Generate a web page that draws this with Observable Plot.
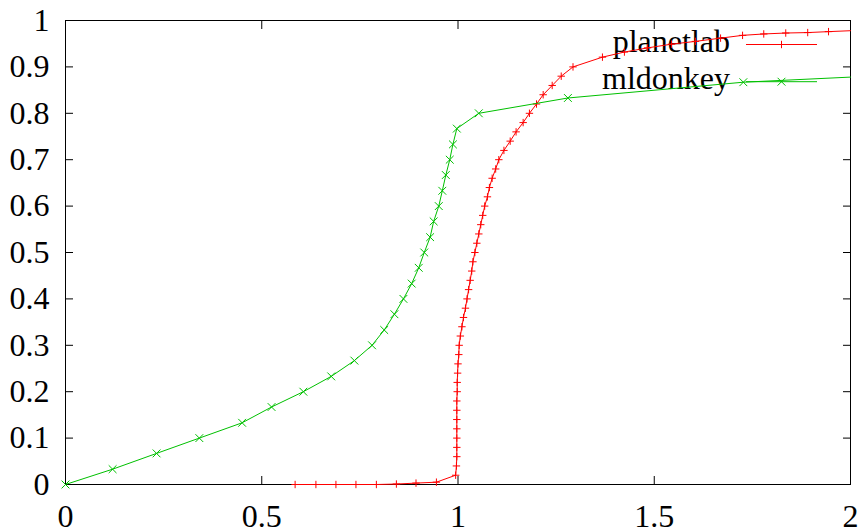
<!DOCTYPE html>
<html>
<head>
<meta charset="utf-8">
<script src="https://cdn.jsdelivr.net/npm/d3@7"></script>
<script src="https://cdn.jsdelivr.net/npm/@observablehq/plot@0.6"></script>
<style>
  html, body { margin: 0; padding: 0; background: #fff; }
  #chart svg { display: block; }
  #chart svg text { font-family: "Liberation Serif", "Times New Roman", serif !important; font-variant: normal !important; font-variant-numeric: normal !important; }
</style>
</head>
<body>
<div id="chart"></div>
<script>
const xTicks = [0, 0.5, 1, 1.5, 2];
const xTickLabels = ["0", "0.5", "1", "1.5", "2"];
const yTicks = [0, 0.1, 0.2, 0.3, 0.4, 0.5, 0.6, 0.7, 0.8, 0.9, 1];
const yTickLabels = ["0", "0.1", "0.2", "0.3", "0.4", "0.5", "0.6", "0.7", "0.8", "0.9", "1"];

const seriesNames = ["planetlab", "mldonkey"];
const seriesColors = ["#ff0000", "#00c000"];

const planetlabX = [0.585, 0.638, 0.689, 0.740, 0.792, 0.843, 0.893, 0.945, 0.994, 0.996, 0.997, 0.997, 0.997, 0.997, 0.997, 0.997, 0.997, 0.998, 0.998, 0.999, 1.000, 1.002, 1.003, 1.006, 1.010, 1.014, 1.019, 1.023, 1.027, 1.031, 1.035, 1.038, 1.043, 1.048, 1.053, 1.058, 1.063, 1.068, 1.075, 1.080, 1.087, 1.096, 1.104, 1.117, 1.133, 1.148, 1.166, 1.182, 1.200, 1.217, 1.240, 1.263, 1.293, 1.368, 1.424, 1.483, 1.544, 1.605, 1.669, 1.725, 1.779, 1.835, 1.891, 1.944, 2.000];
const planetlabY = [0, 0, 0, 0, 0, 0.001, 0.003, 0.005, 0.02, 0.04, 0.06, 0.08, 0.10, 0.12, 0.14, 0.16, 0.18, 0.20, 0.22, 0.24, 0.26, 0.28, 0.30, 0.32, 0.34, 0.36, 0.38, 0.40, 0.42, 0.44, 0.46, 0.48, 0.50, 0.52, 0.54, 0.56, 0.58, 0.60, 0.62, 0.64, 0.66, 0.68, 0.70, 0.72, 0.74, 0.76, 0.78, 0.80, 0.82, 0.84, 0.86, 0.88, 0.90, 0.921, 0.932, 0.941, 0.949, 0.955, 0.962, 0.968, 0.971, 0.973, 0.974, 0.976, 0.978];

const mldonkeyX = [0, 0.120, 0.232, 0.341, 0.450, 0.525, 0.606, 0.677, 0.736, 0.781, 0.812, 0.838, 0.861, 0.882, 0.900, 0.914, 0.929, 0.938, 0.951, 0.960, 0.969, 0.979, 0.987, 0.997, 1.053, 1.280, 1.727, 2.000];
const mldonkeyY = [0, 0.033, 0.067, 0.100, 0.133, 0.167, 0.200, 0.233, 0.267, 0.300, 0.333, 0.367, 0.400, 0.433, 0.467, 0.500, 0.533, 0.567, 0.600, 0.633, 0.667, 0.700, 0.733, 0.767, 0.800, 0.833, 0.867, 0.878];

const planetlab = planetlabX.map((x, i) => ({x, y: planetlabY[i]}));
const mldonkey = mldonkeyX.map((x, i) => ({x, y: mldonkeyY[i]}));

// gnuplot-like stroke symbols
const plusSym = {draw(ctx, size) { const r = Math.sqrt(size / Math.PI); ctx.moveTo(-r, 0); ctx.lineTo(r, 0); ctx.moveTo(0, -r); ctx.lineTo(0, r); }};
const timesSym = {draw(ctx, size) { const r = Math.sqrt(size / Math.PI); ctx.moveTo(-r, -r); ctx.lineTo(r, r); ctx.moveTo(-r, r); ctx.lineTo(r, -r); }};

const font = "Liberation Serif";
const fs = 32;

const chart = Plot.plot({
  width: 861,
  height: 529,
  marginLeft: 65,
  marginRight: 11,
  marginTop: 20,
  marginBottom: 45,
  style: {fontFamily: font, fontSize: fs + "px", background: "#fff", color: "#000"},
  x: {domain: [0, 2], axis: null},
  y: {domain: [0, 1], axis: null},
  marks: [
    // tick labels
    Plot.text(xTicks, {x: (d) => d, text: (d, i) => xTickLabels[i], frameAnchor: "bottom", lineAnchor: "top", textAnchor: "middle", dy: 20, fontFamily: font, fontSize: fs, fill: "#000"}),
    Plot.text(yTicks, {y: (d) => d, text: (d, i) => yTickLabels[i], frameAnchor: "left", lineAnchor: "middle", textAnchor: "end", dx: -16, fontFamily: font, fontSize: fs, fill: "#000"}),
    // inward ticks on all four sides
    Plot.axisX(xTicks, {anchor: "bottom", tickSize: 8, dy: -8, tickFormat: () => "", label: null, stroke: "#000"}),
    Plot.axisX(xTicks, {anchor: "top", tickSize: 8, dy: 8, tickFormat: () => "", label: null, stroke: "#000"}),
    Plot.axisY(yTicks, {anchor: "left", tickSize: 8, dx: 8, tickFormat: () => "", label: null, stroke: "#000"}),
    Plot.axisY(yTicks, {anchor: "right", tickSize: 8, dx: -8, tickFormat: () => "", label: null, stroke: "#000"}),
    Plot.frame({stroke: "#000", strokeWidth: 1}),
    Plot.line(planetlab, {x: "x", y: "y", stroke: seriesColors[0], strokeWidth: 1}),
    Plot.dot(planetlab, {x: "x", y: "y", filter: (d, i) => i < planetlab.length - 1, symbol: plusSym, r: 3.7, stroke: seriesColors[0], fill: "none", strokeWidth: 1}),
    Plot.line(mldonkey, {x: "x", y: "y", stroke: seriesColors[1], strokeWidth: 1}),
    Plot.dot(mldonkey, {x: "x", y: "y", filter: (d, i) => i < mldonkey.length - 1, symbol: timesSym, r: 3.9, stroke: seriesColors[1], fill: "none", strokeWidth: 1})
  ]
});

document.getElementById("chart").appendChild(chart);

// Legend (gnuplot key, top right inside the frame), drawn beneath the data
const firstLine = chart.querySelector('[aria-label="line"]');
const legend = d3.create("svg:g").attr("class", "legend");
const keyRows = [44.5, 81.7];
seriesNames.forEach((name, i) => {
  const yy = keyRows[i];
  legend.append("text")
    .attr("x", 730).attr("y", yy - 2.5).attr("dy", "0.32em")
    .attr("text-anchor", "end")
    .attr("font-size", fs).attr("fill", "#000")
    .text(name);
  legend.append("line")
    .attr("x1", 746).attr("x2", 817).attr("y1", yy).attr("y2", yy)
    .attr("stroke", seriesColors[i]).attr("stroke-width", 1);
  const r = i === 0 ? 3.7 : 3.9;
  const p = i === 0
    ? `M${781.5 - r},${yy}H${781.5 + r}M781.5,${yy - r}V${yy + r}`
    : `M${781.5 - r},${yy - r}L${781.5 + r},${yy + r}M${781.5 - r},${yy + r}L${781.5 + r},${yy - r}`;
  legend.append("path").attr("d", p).attr("stroke", seriesColors[i]).attr("fill", "none").attr("stroke-width", 1);
});
chart.insertBefore(legend.node(), firstLine);

d3.select(chart).selectAll("text").style("font-family", "'Liberation Serif', 'Times New Roman', serif");
</script>
</body>
</html>
